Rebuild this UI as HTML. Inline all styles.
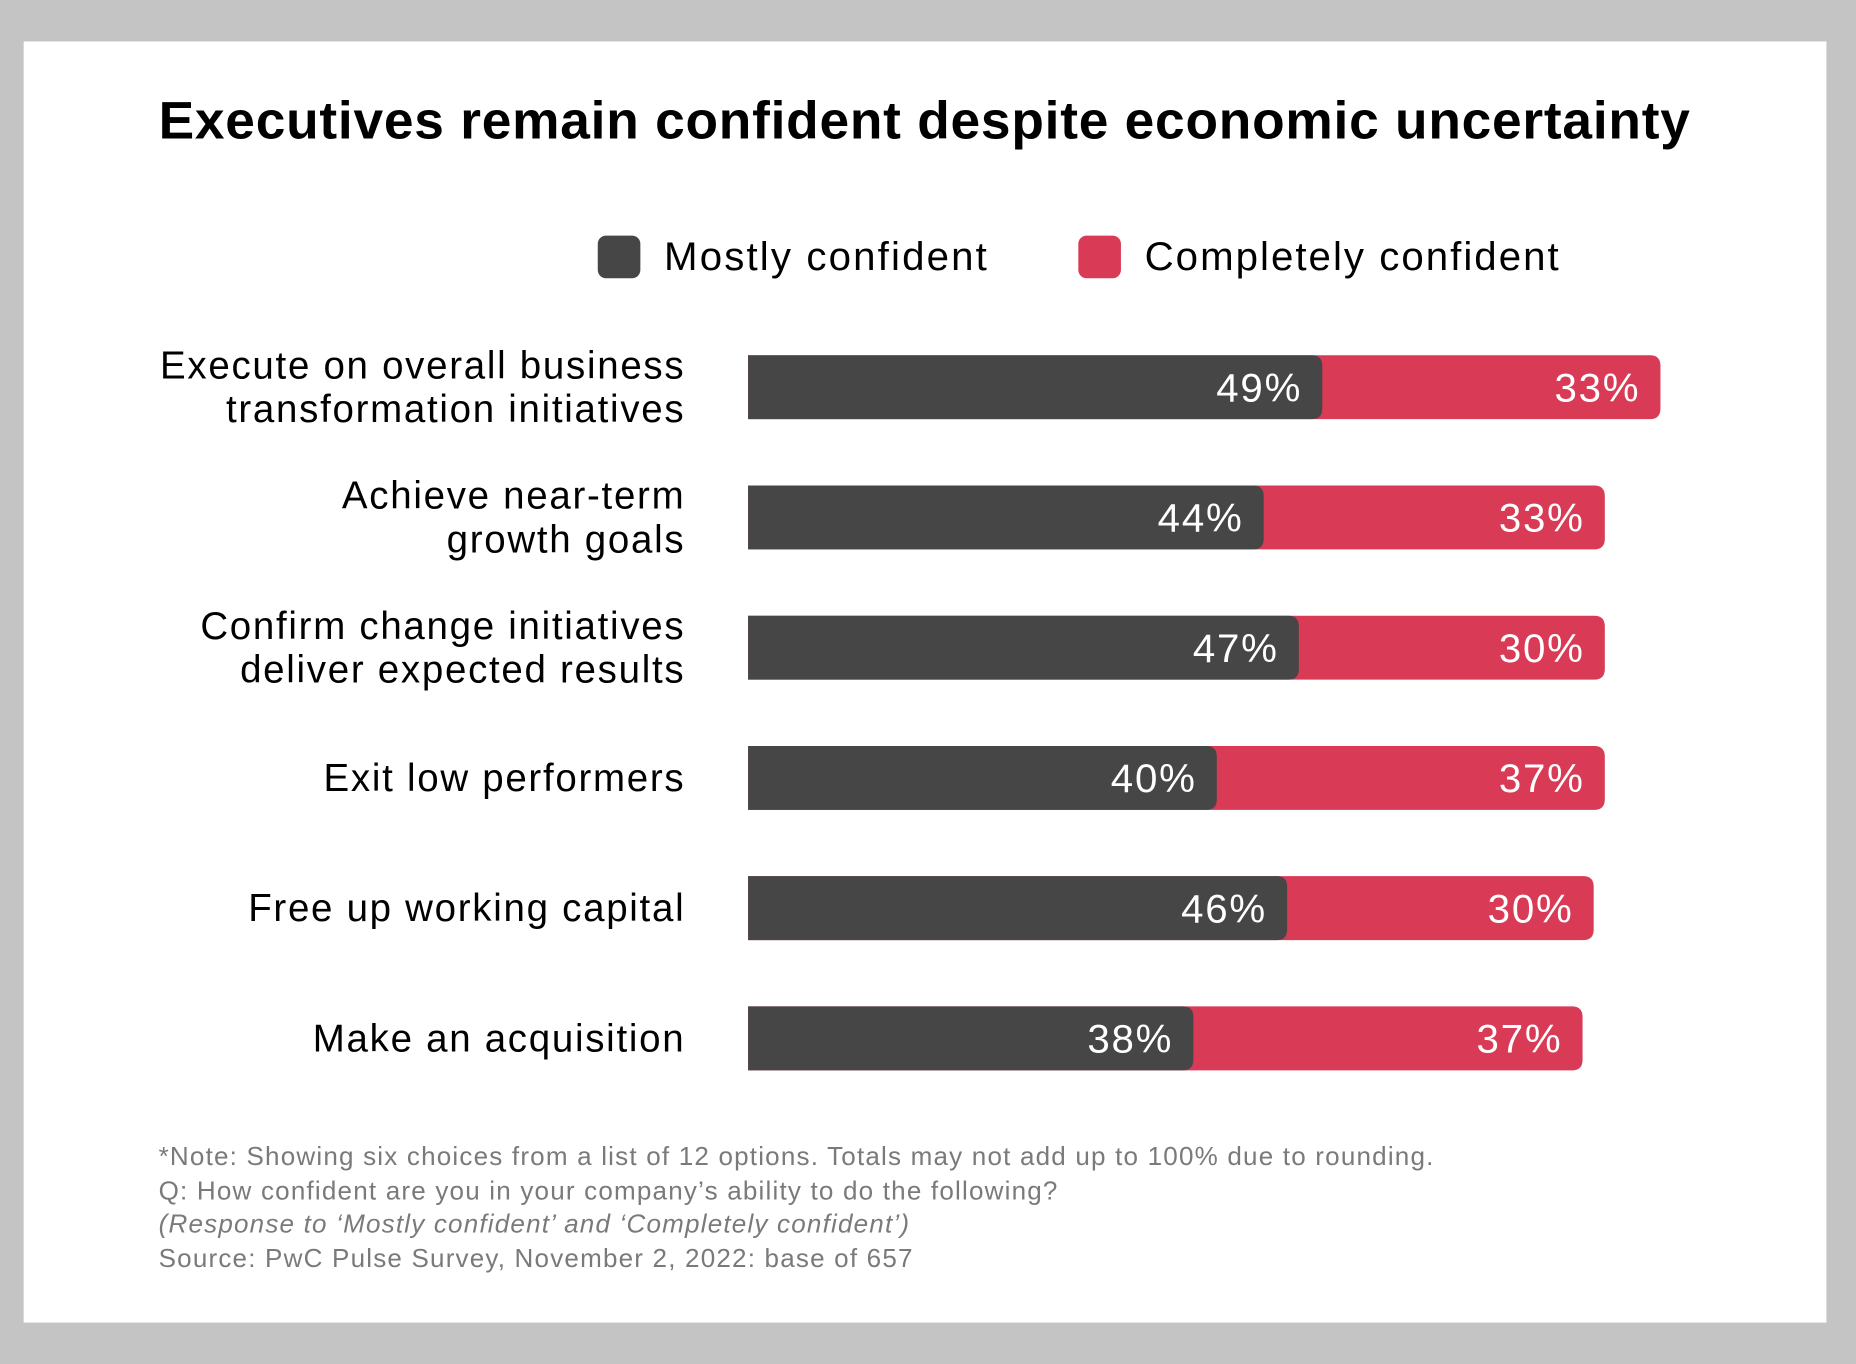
<!DOCTYPE html>
<html><head><meta charset="utf-8">
<style>
html,body{margin:0;padding:0;width:1856px;height:1364px;overflow:hidden;background:#c4c4c4;}
#stage{position:absolute;left:0;top:0;width:1568px;height:1152px;transform:scale(1.18367,1.18403);transform-origin:0 0;font-family:"Liberation Sans",Arial,sans-serif;}
#card{position:absolute;left:20px;top:35px;width:1523px;height:1082px;background:#fff;}
.t{position:absolute;white-space:nowrap;}
</style></head>
<body>
<div id="stage">
<div id="card"></div>
<div class="t" style="left:134px;top:76px;font-size:45px;font-weight:bold;color:#000;letter-spacing:0.65px;">Executives remain confident despite economic uncertainty</div>
<div style="position:absolute;left:505px;top:199px;width:36px;height:36px;border-radius:7px;background:#464646;"></div>
<div class="t" style="left:561px;top:198px;font-size:34px;color:#000;letter-spacing:1.8px;">Mostly confident</div>
<div style="position:absolute;left:911px;top:199px;width:36px;height:36px;border-radius:7px;background:#d93a56;"></div>
<div class="t" style="left:967px;top:198px;font-size:34px;color:#000;letter-spacing:1.7px;">Completely confident</div>
<svg id="chart" width="1568" height="1152" style="position:absolute;left:0;top:0;"></svg>
<div style="position:absolute;left:134px;top:963px;font-size:22px;line-height:28.7px;color:#7a7a7a;letter-spacing:1px;">
<div>*Note: Showing six choices from a list of 12 options. Totals may not add up to 100% due to rounding.</div>
<div>Q: How confident are you in your company’s ability to do the following?</div>
<div style="font-style:italic;">(Response to ‘Mostly confident’ and ‘Completely confident’)</div>
<div>Source: PwC Pulse Survey, November 2, 2022: base of 657</div>
</div>
</div>
<script>
const categories = [["Execute on overall business","transformation initiatives"],["Achieve near-term","growth goals"],["Confirm change initiatives","deliver expected results"],["Exit low performers"],["Free up working capital"],["Make an acquisition"]];
const mostly = [49,44,47,40,46,38];
const completely = [33,33,30,37,30,37];

const NS="http://www.w3.org/2000/svg";
const svg=document.getElementById('chart');
const x0=632, kMostly=9.9, kTotal=9.4, barH=54, rowTop=300, rowStep=110, r=9;
function xMostly(v){return x0+v*kMostly;}
function xTotal(v){return x0+v*kTotal;}
function rowY(i){return rowTop+i*rowStep;}
function rightRounded(x1,y,x2,h,rad){
  return `M${x1},${y} H${x2-rad} Q${x2},${y} ${x2},${y+rad} V${y+h-rad} Q${x2},${y+h} ${x2-rad},${y+h} H${x1} Z`;
}
function txt(x,y,s,size,fill,anchor,ls){
  const t=document.createElementNS(NS,'text');
  t.setAttribute('x',x);t.setAttribute('y',y);t.setAttribute('font-size',size);
  t.setAttribute('fill',fill);t.setAttribute('text-anchor',anchor);
  t.setAttribute('letter-spacing',ls);
  t.setAttribute('font-family','"Liberation Sans",Arial,sans-serif');
  t.textContent=s;return t;
}
categories.forEach((lines,i)=>{
  const y=rowY(i), cy=y+barH/2;
  const xm=xMostly(mostly[i]), xt=xTotal(mostly[i]+completely[i]);
  const red=document.createElementNS(NS,'path');
  red.setAttribute('d',rightRounded(x0,y,xt,barH,r));
  red.setAttribute('fill','#d93a56');
  
  
  svg.appendChild(red);
  const dark=document.createElementNS(NS,'path');
  dark.setAttribute('d',rightRounded(x0,y,xm,barH,r));
  dark.setAttribute('fill','#464646');
  
  
  svg.appendChild(dark);
  const lm=txt(xm-17,cy+12,mostly[i]+'%',34,'#fff','end',1.5);
  
  
  svg.appendChild(lm);
  const lc=txt(xt-17,cy+12,completely[i]+'%',34,'#fff','end',1.5);
  
  
  svg.appendChild(lc);
  const n=lines.length;
  lines.forEach((s,j)=>{
    const ly=cy+11+(j-(n-1)/2)*37;
    const lt=txt(579,ly,s,32.5,'#000','end',1.45);
    
    
    svg.appendChild(lt);
  });
});
</script>
</body></html>
